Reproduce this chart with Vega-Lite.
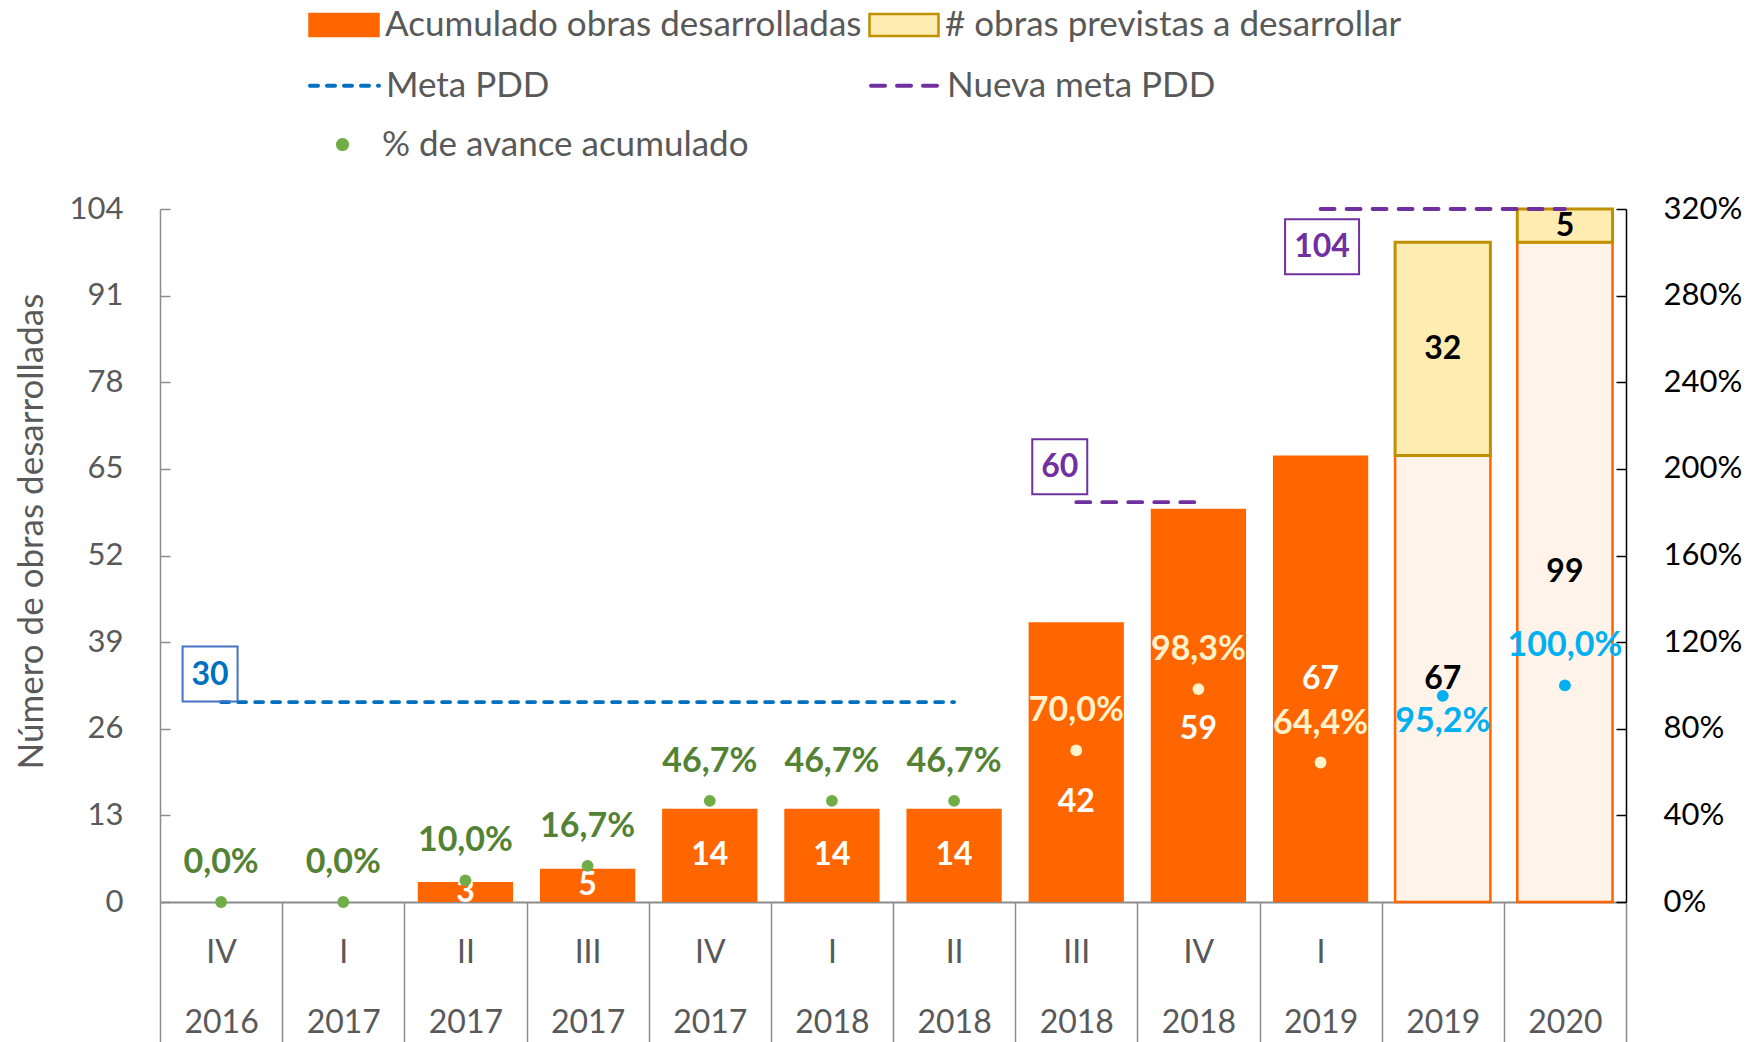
{
  "$schema": "https://vega.github.io/schema/vega-lite/v6.json",
  "width": 1466,
  "height": 693,
  "autosize": {"type": "none"},
  "padding": {"left": 160, "top": 209, "right": 126, "bottom": 140},
  "background": "white",
  "config": {
    "font": "Lato",
    "view": {"stroke": null},
    "locale": {"number": {"decimal": ",", "thousands": ".", "grouping": [3], "currency": ["$", ""]}}
  },
  "datasets": {
    "avance": [
      {"cat": "IV|2016", "obras": 0, "previstas": 0, "pct": 0, "estado": "ejecutado", "meta": 30},
      {"cat": "I|2017", "obras": 0, "previstas": 0, "pct": 0, "estado": "ejecutado", "meta": 30},
      {"cat": "II|2017", "obras": 3, "previstas": 0, "pct": 0.1, "estado": "ejecutado", "meta": 30},
      {"cat": "III|2017", "obras": 5, "previstas": 0, "pct": 0.167, "estado": "ejecutado", "meta": 30},
      {"cat": "IV|2017", "obras": 14, "previstas": 0, "pct": 0.467, "estado": "ejecutado", "meta": 30},
      {"cat": "I|2018", "obras": 14, "previstas": 0, "pct": 0.467, "estado": "ejecutado", "meta": 30},
      {"cat": "II|2018", "obras": 14, "previstas": 0, "pct": 0.467, "estado": "ejecutado", "meta": 30},
      {"cat": "III|2018", "obras": 42, "previstas": 0, "pct": 0.7, "estado": "ejecutado", "meta": 60},
      {"cat": "IV|2018", "obras": 59, "previstas": 0, "pct": 0.983, "estado": "ejecutado", "meta": 60},
      {"cat": "I|2019", "obras": 67, "previstas": 0, "pct": 0.644, "estado": "ejecutado", "meta": 104},
      {"cat": "|2019", "obras": 67, "previstas": 32, "pct": 0.952, "estado": "proyectado", "meta": 104},
      {"cat": "|2020", "obras": 99, "previstas": 5, "pct": 1.0, "estado": "proyectado", "meta": 104}
    ],
    "metas": [
      {"meta": "Meta PDD", "valor": 30, "desde": "IV|2016", "hasta": "II|2018"},
      {"meta": "Nueva meta PDD", "valor": 60, "desde": "III|2018", "hasta": "IV|2018"},
      {"meta": "Nueva meta PDD", "valor": 104, "desde": "I|2019", "hasta": "|2020"}
    ]
  },
  "encoding": {
    "x": {
      "field": "cat", "type": "nominal", "sort": null, "title": null,
      "scale": {"domain": ["IV|2016", "I|2017", "II|2017", "III|2017", "IV|2017", "I|2018", "II|2018", "III|2018", "IV|2018", "I|2019", "|2019", "|2020"], "paddingInner": 0, "paddingOuter": 0},
      "axis": {
        "title": null, "labelExpr": "isValid(datum.value) ? split(datum.value, '|') : ''", "labelAngle": 0, "labelFontSize": 32,
        "labelColor": "#595959", "labelLineHeight": 70, "labelPadding": -105, "labelBaseline": "top",
        "tickBand": "extent", "tickSize": 140, "tickColor": "#8C8C8C", "tickWidth": 1.5,
        "domainColor": "#8C8C8C", "domainWidth": 2, "labelLimit": 200
      }
    }
  },
  "layer": [
    {
      "layer": [
        {
          "data": {"name": "avance"},
          "transform": [{"filter": "datum.estado == 'ejecutado'"}],
          "mark": {"type": "bar", "width": {"band": 0.78}},
          "encoding": {
            "y": {
              "field": "obras", "type": "quantitative", "title": "Número de obras desarrolladas",
              "scale": {"domain": [0, 104], "nice": false, "zero": true},
              "axis": {
                "orient": "left", "values": [0, 13, 26, 39, 52, 65, 78, 91, 104], "grid": false,
                "labelFontSize": 31, "labelColor": "#595959", "domainColor": "#8C8C8C", "domainWidth": 1.5,
                "tickColor": "#8C8C8C", "tickWidth": 1.5, "tickSize": -10, "labelPadding": 47,
                "titleFontSize": 35, "titleFontWeight": "normal", "titleColor": "#595959", "titlePadding": 20, "titleY": 322
              }
            },
            "fill": {
              "datum": "Acumulado obras desarrolladas",
              "scale": {"domain": ["Acumulado obras desarrolladas", "# obras previstas a desarrollar"], "range": ["#FF6600", "#FFECB0"]},
              "legend": {
                "title": null, "orient": "none", "legendX": 148, "legendY": -220, "direction": "horizontal",
                "columns": 2, "columnPadding": 2, "symbolType": "M-1,-0.32L1,-0.32L1,0.32L-1,0.32Z",
                "symbolSize": 4761, "labelFontSize": 35, "labelColor": "#595959", "labelOffset": 5,
                "labelLimit": 800, "symbolStrokeWidth": 2.5, "symbolOpacity": 1,
                "encode": {"symbols": {"update": {"stroke": {"signal": "datum.value === '# obras previstas a desarrollar' ? '#BF9000' : '#FF6600'"}, "strokeWidth": {"value": 2.5}}}}
              }
            }
          }
        },
        {
          "data": {"name": "avance"},
          "transform": [{"filter": "datum.estado == 'proyectado'"}],
          "mark": {"type": "bar", "width": {"band": 0.78}, "fill": "#FFF3EA", "stroke": "#FF6600", "strokeWidth": 2.5},
          "encoding": {
            "y": {"field": "obras", "type": "quantitative", "title": "Número de obras desarrolladas"}
          }
        },
        {
          "data": {"name": "avance"},
          "transform": [{"filter": "datum.previstas > 0"}, {"calculate": "datum.obras + datum.previstas", "as": "fin"}],
          "mark": {"type": "bar", "width": {"band": 0.78}, "stroke": "#BF9000", "strokeWidth": 3},
          "encoding": {
            "y": {"field": "obras", "type": "quantitative", "title": "Número de obras desarrolladas"},
            "y2": {"field": "fin"},
            "fill": {"datum": "# obras previstas a desarrollar"}
          }
        },
        {
          "data": {"name": "metas"},
          "mark": {"type": "rule", "strokeWidth": 3.8, "strokeCap": "round"},
          "encoding": {
            "x": {"field": "desde", "type": "nominal", "sort": null, "title": null, "scale": {"domain": ["IV|2016", "I|2017", "II|2017", "III|2017", "IV|2017", "I|2018", "II|2018", "III|2018", "IV|2018", "I|2019", "|2019", "|2020"], "paddingInner": 0, "paddingOuter": 0}},
            "x2": {"field": "hasta"},
            "y": {"field": "valor", "type": "quantitative", "title": "Número de obras desarrolladas"},
            "stroke": {
              "field": "meta", "type": "nominal",
              "scale": {"domain": ["Meta PDD", "Nueva meta PDD"], "range": ["#0070C0", "#7030A0"]},
              "legend": {
                "title": null, "orient": "none", "legendX": 148, "legendY": -160, "direction": "horizontal",
                "columns": 2, "columnPadding": 313, "symbolType": "stroke", "symbolSize": 4761,
                "symbolStrokeWidth": 4, "labelFontSize": 35, "labelColor": "#595959", "labelOffset": 5, "labelLimit": 800,
                "encode": {"symbols": {"update": {"strokeCap": {"value": "round"}}}}
              }
            },
            "strokeDash": {
              "field": "meta", "type": "nominal",
              "scale": {"domain": ["Meta PDD", "Nueva meta PDD"], "range": [[8, 9], [14, 12]]},
              "legend": {
                "title": null, "orient": "none", "legendX": 148, "legendY": -160, "direction": "horizontal",
                "columns": 2, "columnPadding": 313, "symbolType": "stroke", "symbolSize": 4761,
                "symbolStrokeWidth": 4, "labelFontSize": 35, "labelColor": "#595959", "labelOffset": 5, "labelLimit": 800,
                "encode": {"symbols": {"update": {"strokeCap": {"value": "round"}}}}
              }
            }
          }
        },
        {
          "data": {"name": "avance"},
          "transform": [{"filter": "datum.obras > 0 && datum.cat != 'III|2018' && datum.cat != 'IV|2018'"}, {"calculate": "datum.obras / 2", "as": "medio"}],
          "mark": {"type": "text", "fontSize": 32, "fontWeight": "bold"},
          "encoding": {
            "y": {"field": "medio", "type": "quantitative", "title": "Número de obras desarrolladas"},
            "text": {"field": "obras"},
            "color": {"condition": {"test": "datum.estado == 'proyectado'", "value": "#000000"}, "value": "#FFFFFF"}
          }
        },
        {
          "data": {"name": "avance"},
          "transform": [{"filter": "datum.cat == 'III|2018'"}, {"calculate": "datum.obras / 2", "as": "medio"}],
          "mark": {"type": "text", "fontSize": 32, "fontWeight": "bold", "dy": 40, "color": "#FFFFFF"},
          "encoding": {
            "y": {"field": "medio", "type": "quantitative", "title": "Número de obras desarrolladas"},
            "text": {"field": "obras"}
          }
        },
        {
          "data": {"name": "avance"},
          "transform": [{"filter": "datum.cat == 'IV|2018'"}, {"calculate": "datum.obras / 2", "as": "medio"}],
          "mark": {"type": "text", "fontSize": 32, "fontWeight": "bold", "dy": 24, "color": "#FFFFFF"},
          "encoding": {
            "y": {"field": "medio", "type": "quantitative", "title": "Número de obras desarrolladas"},
            "text": {"field": "obras"}
          }
        },
        {
          "data": {"name": "avance"},
          "transform": [{"filter": "datum.previstas > 0"}, {"calculate": "datum.obras + datum.previstas / 2", "as": "medio"}],
          "mark": {"type": "text", "fontSize": 32, "fontWeight": "bold", "color": "#000000"},
          "encoding": {
            "y": {"field": "medio", "type": "quantitative", "title": "Número de obras desarrolladas"},
            "text": {"field": "previstas"}
          }
        },
        {
          "data": {"name": "metas"},
          "transform": [{"filter": "datum.valor == 30"}],
          "mark": {"type": "point", "shape": "square", "size": 3025, "filled": false, "stroke": "#4472C4", "strokeWidth": 2, "opacity": 1, "xOffset": -11, "yOffset": -28},
          "encoding": {
            "x": {"field": "desde", "type": "nominal", "sort": null, "title": null, "scale": {"domain": ["IV|2016", "I|2017", "II|2017", "III|2017", "IV|2017", "I|2018", "II|2018", "III|2018", "IV|2018", "I|2019", "|2019", "|2020"], "paddingInner": 0, "paddingOuter": 0}},
            "y": {"field": "valor", "type": "quantitative", "title": "Número de obras desarrolladas"}
          }
        },
        {
          "data": {"name": "metas"},
          "transform": [{"filter": "datum.valor == 30"}],
          "mark": {"type": "text", "fontSize": 32, "fontWeight": "bold", "color": "#0070C0", "dx": -11, "dy": -27},
          "encoding": {
            "x": {"field": "desde", "type": "nominal", "sort": null, "title": null, "scale": {"domain": ["IV|2016", "I|2017", "II|2017", "III|2017", "IV|2017", "I|2018", "II|2018", "III|2018", "IV|2018", "I|2019", "|2019", "|2020"], "paddingInner": 0, "paddingOuter": 0}},
            "y": {"field": "valor", "type": "quantitative", "title": "Número de obras desarrolladas"},
            "text": {"field": "valor"}
          }
        },
        {
          "data": {"name": "metas"},
          "transform": [{"filter": "datum.valor == 60"}],
          "mark": {"type": "point", "shape": "square", "size": 3025, "filled": false, "stroke": "#7030A0", "strokeWidth": 2, "opacity": 1, "xOffset": -16.5, "yOffset": -35.5},
          "encoding": {
            "x": {"field": "desde", "type": "nominal", "sort": null, "title": null, "scale": {"domain": ["IV|2016", "I|2017", "II|2017", "III|2017", "IV|2017", "I|2018", "II|2018", "III|2018", "IV|2018", "I|2019", "|2019", "|2020"], "paddingInner": 0, "paddingOuter": 0}},
            "y": {"field": "valor", "type": "quantitative", "title": "Número de obras desarrolladas"}
          }
        },
        {
          "data": {"name": "metas"},
          "transform": [{"filter": "datum.valor == 60"}],
          "mark": {"type": "text", "fontSize": 32, "fontWeight": "bold", "color": "#7030A0", "dx": -16.5, "dy": -35.5},
          "encoding": {
            "x": {"field": "desde", "type": "nominal", "sort": null, "title": null, "scale": {"domain": ["IV|2016", "I|2017", "II|2017", "III|2017", "IV|2017", "I|2018", "II|2018", "III|2018", "IV|2018", "I|2019", "|2019", "|2020"], "paddingInner": 0, "paddingOuter": 0}},
            "y": {"field": "valor", "type": "quantitative", "title": "Número de obras desarrolladas"},
            "text": {"field": "valor"}
          }
        },
        {
          "data": {"name": "metas"},
          "transform": [{"filter": "datum.valor == 104"}],
          "mark": {"type": "point", "shape": "M-1,-0.743L1,-0.743L1,0.743L-1,0.743Z", "size": 5476, "filled": false, "stroke": "#7030A0", "strokeWidth": 2, "opacity": 1, "xOffset": 1.5, "yOffset": 37.7},
          "encoding": {
            "x": {"field": "desde", "type": "nominal", "sort": null, "title": null, "scale": {"domain": ["IV|2016", "I|2017", "II|2017", "III|2017", "IV|2017", "I|2018", "II|2018", "III|2018", "IV|2018", "I|2019", "|2019", "|2020"], "paddingInner": 0, "paddingOuter": 0}},
            "y": {"field": "valor", "type": "quantitative", "title": "Número de obras desarrolladas"}
          }
        },
        {
          "data": {"name": "metas"},
          "transform": [{"filter": "datum.valor == 104"}],
          "mark": {"type": "text", "fontSize": 32, "fontWeight": "bold", "color": "#7030A0", "dx": 1.5, "dy": 37.7},
          "encoding": {
            "x": {"field": "desde", "type": "nominal", "sort": null, "title": null, "scale": {"domain": ["IV|2016", "I|2017", "II|2017", "III|2017", "IV|2017", "I|2018", "II|2018", "III|2018", "IV|2018", "I|2019", "|2019", "|2020"], "paddingInner": 0, "paddingOuter": 0}},
            "y": {"field": "valor", "type": "quantitative", "title": "Número de obras desarrolladas"},
            "text": {"field": "valor"}
          }
        }
      ]
    },
    {
      "layer": [
        {
          "data": {"name": "avance"},
          "mark": {"type": "circle", "size": 140, "opacity": 1},
          "encoding": {
            "y": {
              "field": "pct", "type": "quantitative", "title": null,
              "scale": {"domain": [0, 3.2], "nice": false, "zero": true},
              "axis": {
                "orient": "right", "values": [0, 0.4, 0.8, 1.2, 1.6, 2.0, 2.4, 2.8, 3.2], "format": ".0%", "grid": false,
                "labelFontSize": 31, "labelColor": "#000000", "domainColor": "#000000", "domainWidth": 1.5,
                "tickColor": "#000000", "tickWidth": 1.5, "tickSize": -10, "labelPadding": 47, "title": null
              }
            },
            "color": {
              "datum": "% de avance acumulado",
              "condition": [
                {"test": "datum.estado == 'proyectado'", "value": "#00B0F0"},
                {"test": "datum.meta != 30", "value": "#FFF2CC"}
              ],
              "scale": {"domain": ["% de avance acumulado"], "range": ["#70AD47"]},
              "legend": {
                "title": null, "orient": "none", "legendX": 148, "legendY": -99,
                "symbolType": "M-0.19,0A0.19,0.19 0 1,0 0.19,0A0.19,0.19 0 1,0 -0.19,0Z",
                "symbolSize": 4761, "symbolStrokeWidth": 0, "labelFontSize": 35, "labelColor": "#595959",
                "labelOffset": 5, "labelLimit": 800
              }
            }
          }
        },
        {
          "data": {"name": "avance"},
          "transform": [{"filter": "datum.cat != '|2019'"}],
          "mark": {"type": "text", "fontSize": 34, "fontWeight": "bold", "dy": -39},
          "encoding": {
            "y": {"field": "pct", "type": "quantitative", "title": null},
            "text": {"field": "pct", "format": ".1%"},
            "color": {
              "condition": [
                {"test": "datum.estado == 'proyectado'", "value": "#00B0F0"},
                {"test": "datum.meta != 30", "value": "#FFF2CC"}
              ],
              "value": "#548235"
            }
          }
        },
        {
          "data": {"name": "avance"},
          "transform": [{"filter": "datum.cat == '|2019'"}],
          "mark": {"type": "text", "fontSize": 34, "fontWeight": "bold", "dy": 26, "color": "#00B0F0"},
          "encoding": {
            "y": {"field": "pct", "type": "quantitative", "title": null},
            "text": {"field": "pct", "format": ".1%"}
          }
        }
      ]
    }
  ],
  "resolve": {"scale": {"y": "independent"}}
}
